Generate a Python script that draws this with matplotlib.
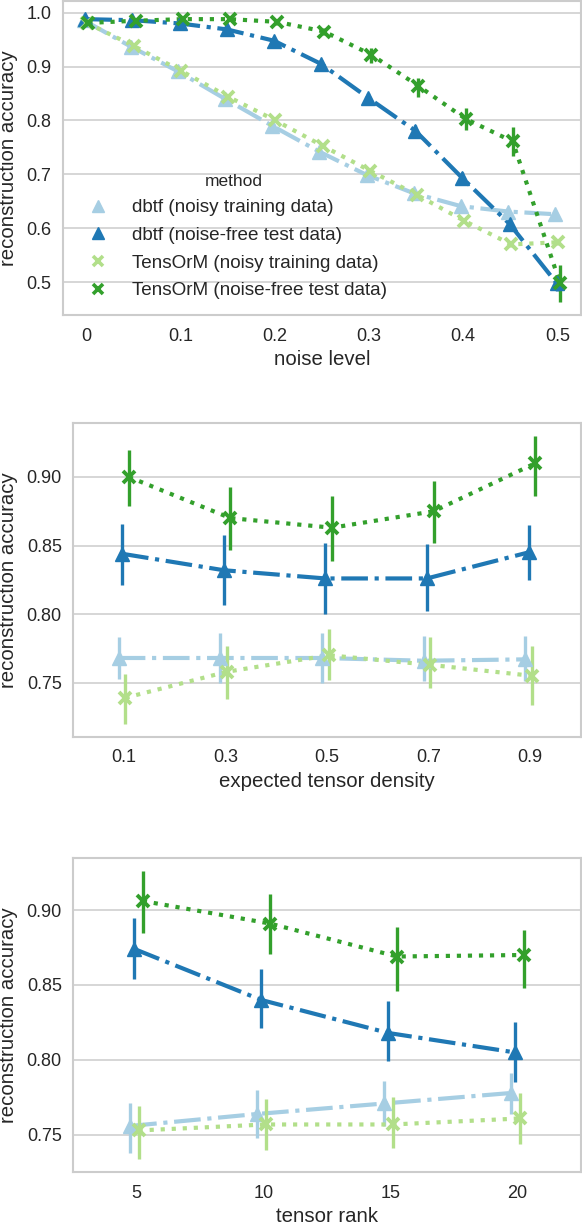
import numpy as np
import matplotlib
matplotlib.use("Agg")
import matplotlib.pyplot as plt
from matplotlib.lines import Line2D
import seaborn as sns

sns.set_style("whitegrid")
plt.rcParams['font.family'] = ['Liberation Sans', 'DejaVu Sans']

# ---------------- data ----------------
methods = ["dbtf (noisy training data)", "dbtf (noise-free test data)",
           "TensOrM (noisy training data)", "TensOrM (noise-free test data)"]
colors = ["#a6cee3", "#1f78b4", "#b2df8a", "#33a02c"]
markers = ["^", "^", "x", "x"]
linestyles = ["-.", "-.", ":", ":"]

# Panel 1: noise level
noise_levels = ["0", "0.05", "0.1", "0.15", "0.2", "0.25", "0.3", "0.35", "0.4", "0.45", "0.5"]
noise_ticklabels = ["0", "0.1", "0.2", "0.3", "0.4", "0.5"]
noise_dbtf_train = [0.986, 0.937, 0.891, 0.840, 0.790, 0.742, 0.699, 0.665, 0.641, 0.631, 0.626]
noise_dbtf_test = [0.988, 0.986, 0.980, 0.969, 0.948, 0.905, 0.842, 0.781, 0.693, 0.608, 0.498]
noise_tens_train = [0.981, 0.938, 0.892, 0.844, 0.800, 0.753, 0.707, 0.662, 0.614, 0.570, 0.574]
noise_tens_test = [0.981, 0.985, 0.988, 0.988, 0.983, 0.965, 0.922, 0.864, 0.803, 0.761, 0.499]
noise_dbtf_train_lo = [0.983, 0.934, 0.888, 0.837, 0.787, 0.739, 0.696, 0.662, 0.638, 0.627, 0.621]
noise_dbtf_train_hi = [0.989, 0.940, 0.894, 0.843, 0.793, 0.745, 0.702, 0.668, 0.644, 0.635, 0.631]
noise_dbtf_test_lo = [0.986, 0.984, 0.977, 0.965, 0.943, 0.898, 0.833, 0.771, 0.682, 0.596, 0.484]
noise_dbtf_test_hi = [0.990, 0.988, 0.983, 0.973, 0.953, 0.912, 0.851, 0.791, 0.704, 0.620, 0.512]
noise_tens_train_lo = [0.979, 0.935, 0.889, 0.841, 0.797, 0.750, 0.704, 0.659, 0.611, 0.566, 0.569]
noise_tens_train_hi = [0.983, 0.941, 0.895, 0.847, 0.803, 0.756, 0.710, 0.665, 0.617, 0.574, 0.579]
noise_tens_test_lo = [0.979, 0.983, 0.986, 0.985, 0.978, 0.958, 0.907, 0.844, 0.782, 0.734, 0.464]
noise_tens_test_hi = [0.983, 0.987, 0.990, 0.991, 0.988, 0.972, 0.934, 0.878, 0.823, 0.787, 0.531]

# Panel 2: expected tensor density
density_levels = ["0.1", "0.3", "0.5", "0.7", "0.9"]
dens_dbtf_train = [0.768, 0.768, 0.768, 0.766, 0.767]
dens_dbtf_test = [0.844, 0.832, 0.826, 0.826, 0.845]
dens_tens_train = [0.739, 0.758, 0.770, 0.763, 0.755]
dens_tens_test = [0.900, 0.870, 0.863, 0.875, 0.910]
dens_dbtf_train_lo = [0.753, 0.750, 0.750, 0.751, 0.751]
dens_dbtf_train_hi = [0.783, 0.786, 0.786, 0.784, 0.784]
dens_dbtf_test_lo = [0.821, 0.807, 0.800, 0.802, 0.825]
dens_dbtf_test_hi = [0.866, 0.858, 0.852, 0.851, 0.865]
dens_tens_train_lo = [0.720, 0.738, 0.752, 0.746, 0.734]
dens_tens_train_hi = [0.756, 0.777, 0.789, 0.783, 0.777]
dens_tens_test_lo = [0.879, 0.847, 0.839, 0.852, 0.886]
dens_tens_test_hi = [0.920, 0.893, 0.886, 0.897, 0.930]

# Panel 3: tensor rank
rank_levels = ["5", "10", "15", "20"]
rank_dbtf_train = [0.756, 0.764, 0.771, 0.778]
rank_dbtf_test = [0.874, 0.840, 0.818, 0.805]
rank_tens_train = [0.753, 0.757, 0.757, 0.761]
rank_tens_test = [0.906, 0.891, 0.869, 0.870]
rank_dbtf_train_lo = [0.738, 0.748, 0.756, 0.764]
rank_dbtf_train_hi = [0.771, 0.780, 0.786, 0.791]
rank_dbtf_test_lo = [0.854, 0.821, 0.799, 0.785]
rank_dbtf_test_hi = [0.895, 0.861, 0.839, 0.825]
rank_tens_train_lo = [0.734, 0.740, 0.741, 0.744]
rank_tens_train_hi = [0.769, 0.774, 0.775, 0.778]
rank_tens_test_lo = [0.885, 0.871, 0.846, 0.848]
rank_tens_test_hi = [0.926, 0.911, 0.889, 0.887]

panels = [
    dict(levels=noise_levels, ticklabels=noise_ticklabels, tickstep=2, xlabel="noise level",
         means=[noise_dbtf_train, noise_dbtf_test, noise_tens_train, noise_tens_test],
         lo=[noise_dbtf_train_lo, noise_dbtf_test_lo, noise_tens_train_lo, noise_tens_test_lo],
         hi=[noise_dbtf_train_hi, noise_dbtf_test_hi, noise_tens_train_hi, noise_tens_test_hi],
         yticks=[0.5, 0.6, 0.7, 0.8, 0.9, 1.0], yfmt="{:.1f}", ylim=(0.439, 1.0217),
         rect=[0.1074, 0.7422, 0.891, 0.257]),
    dict(levels=density_levels, ticklabels=density_levels, tickstep=1, xlabel="expected tensor density",
         means=[dens_dbtf_train, dens_dbtf_test, dens_tens_train, dens_tens_test],
         lo=[dens_dbtf_train_lo, dens_dbtf_test_lo, dens_tens_train_lo, dens_tens_test_lo],
         hi=[dens_dbtf_train_hi, dens_dbtf_test_hi, dens_tens_train_hi, dens_tens_test_hi],
         yticks=[0.75, 0.80, 0.85, 0.90], yfmt="{:.2f}", ylim=(0.7104, 0.9394),
         rect=[0.1254, 0.3969, 0.8729, 0.257]),
    dict(levels=rank_levels, ticklabels=rank_levels, tickstep=1, xlabel="tensor rank",
         means=[rank_dbtf_train, rank_dbtf_test, rank_tens_train, rank_tens_test],
         lo=[rank_dbtf_train_lo, rank_dbtf_test_lo, rank_tens_train_lo, rank_tens_test_lo],
         hi=[rank_dbtf_train_hi, rank_dbtf_test_hi, rank_tens_train_hi, rank_tens_test_hi],
         yticks=[0.75, 0.80, 0.85, 0.90], yfmt="{:.2f}", ylim=(0.7253, 0.9347),
         rect=[0.1254, 0.0409, 0.8729, 0.257]),
]

fig = plt.figure(figsize=(5.82, 12.22), dpi=100)
dodge = np.linspace(-0.05, 0.05, 4)
text_color = "#262626"

for pi, p in enumerate(panels):
    ax = fig.add_axes(p["rect"])
    n = len(p["levels"])
    xs = np.arange(n)
    for k in range(4):
        x = xs + dodge[k]
        m = np.array(p["means"][k])
        lo = np.array(p["lo"][k])
        hi = np.array(p["hi"][k])
        ax.plot(x, m, color=colors[k], ls=linestyles[k], lw=3, zorder=2 + k * 0.1,
                dash_capstyle="butt")
        ax.vlines(x, lo, hi, color=colors[k], lw=2.4, zorder=2 + k * 0.1)
        if markers[k] == "^":
            ax.plot(x, m, ls="none", marker="^", ms=10, mew=1, color=colors[k], zorder=3 + k * 0.1)
        else:
            ax.plot(x, m, ls="none", marker="x", ms=8, mew=2.8, color=colors[k], zorder=3 + k * 0.1)
    ax.set_xlim(-0.5, n - 0.5)
    ax.set_xticks(xs[::p["tickstep"]])
    ax.set_xticklabels(p["ticklabels"])
    ax.set_ylim(*p["ylim"])
    ax.set_yticks(p["yticks"])
    ax.set_yticklabels([p["yfmt"].format(v) for v in p["yticks"]])
    ax.grid(axis="x", visible=False)
    ax.grid(axis="y", color="#cccccc", lw=1.1)
    for s in ax.spines.values():
        s.set_color("#cccccc")
        s.set_linewidth(1.5)
    ax.tick_params(axis="both", labelsize=13, colors=text_color, length=0)
    ax.tick_params(axis="y", pad=8)
    ax.tick_params(axis="x", pad=9)
    ax.set_xlabel(p["xlabel"], fontsize=14.7, color=text_color, labelpad=4)
    ax.set_ylabel("reconstruction accuracy", fontsize=14.7, color=text_color, labelpad=6)

    if pi == 0:
        handles = []
        for k in range(4):
            if markers[k] == "^":
                h = Line2D([], [], ls="none", marker="^", ms=9, mew=1, color=colors[k])
            else:
                h = Line2D([], [], ls="none", marker="x", ms=7, mew=2.6, color=colors[k])
            handles.append(h)
        leg = ax.legend(handles, methods, title="method", loc="center left",
                        bbox_to_anchor=(0.0, 0.25), frameon=False, fontsize=13.6,
                        title_fontsize=12.5, labelspacing=0.55, borderpad=0.4)
        for t in leg.get_texts():
            t.set_color(text_color)
        leg.get_title().set_color(text_color)

fig.savefig("out.png", dpi=100)
